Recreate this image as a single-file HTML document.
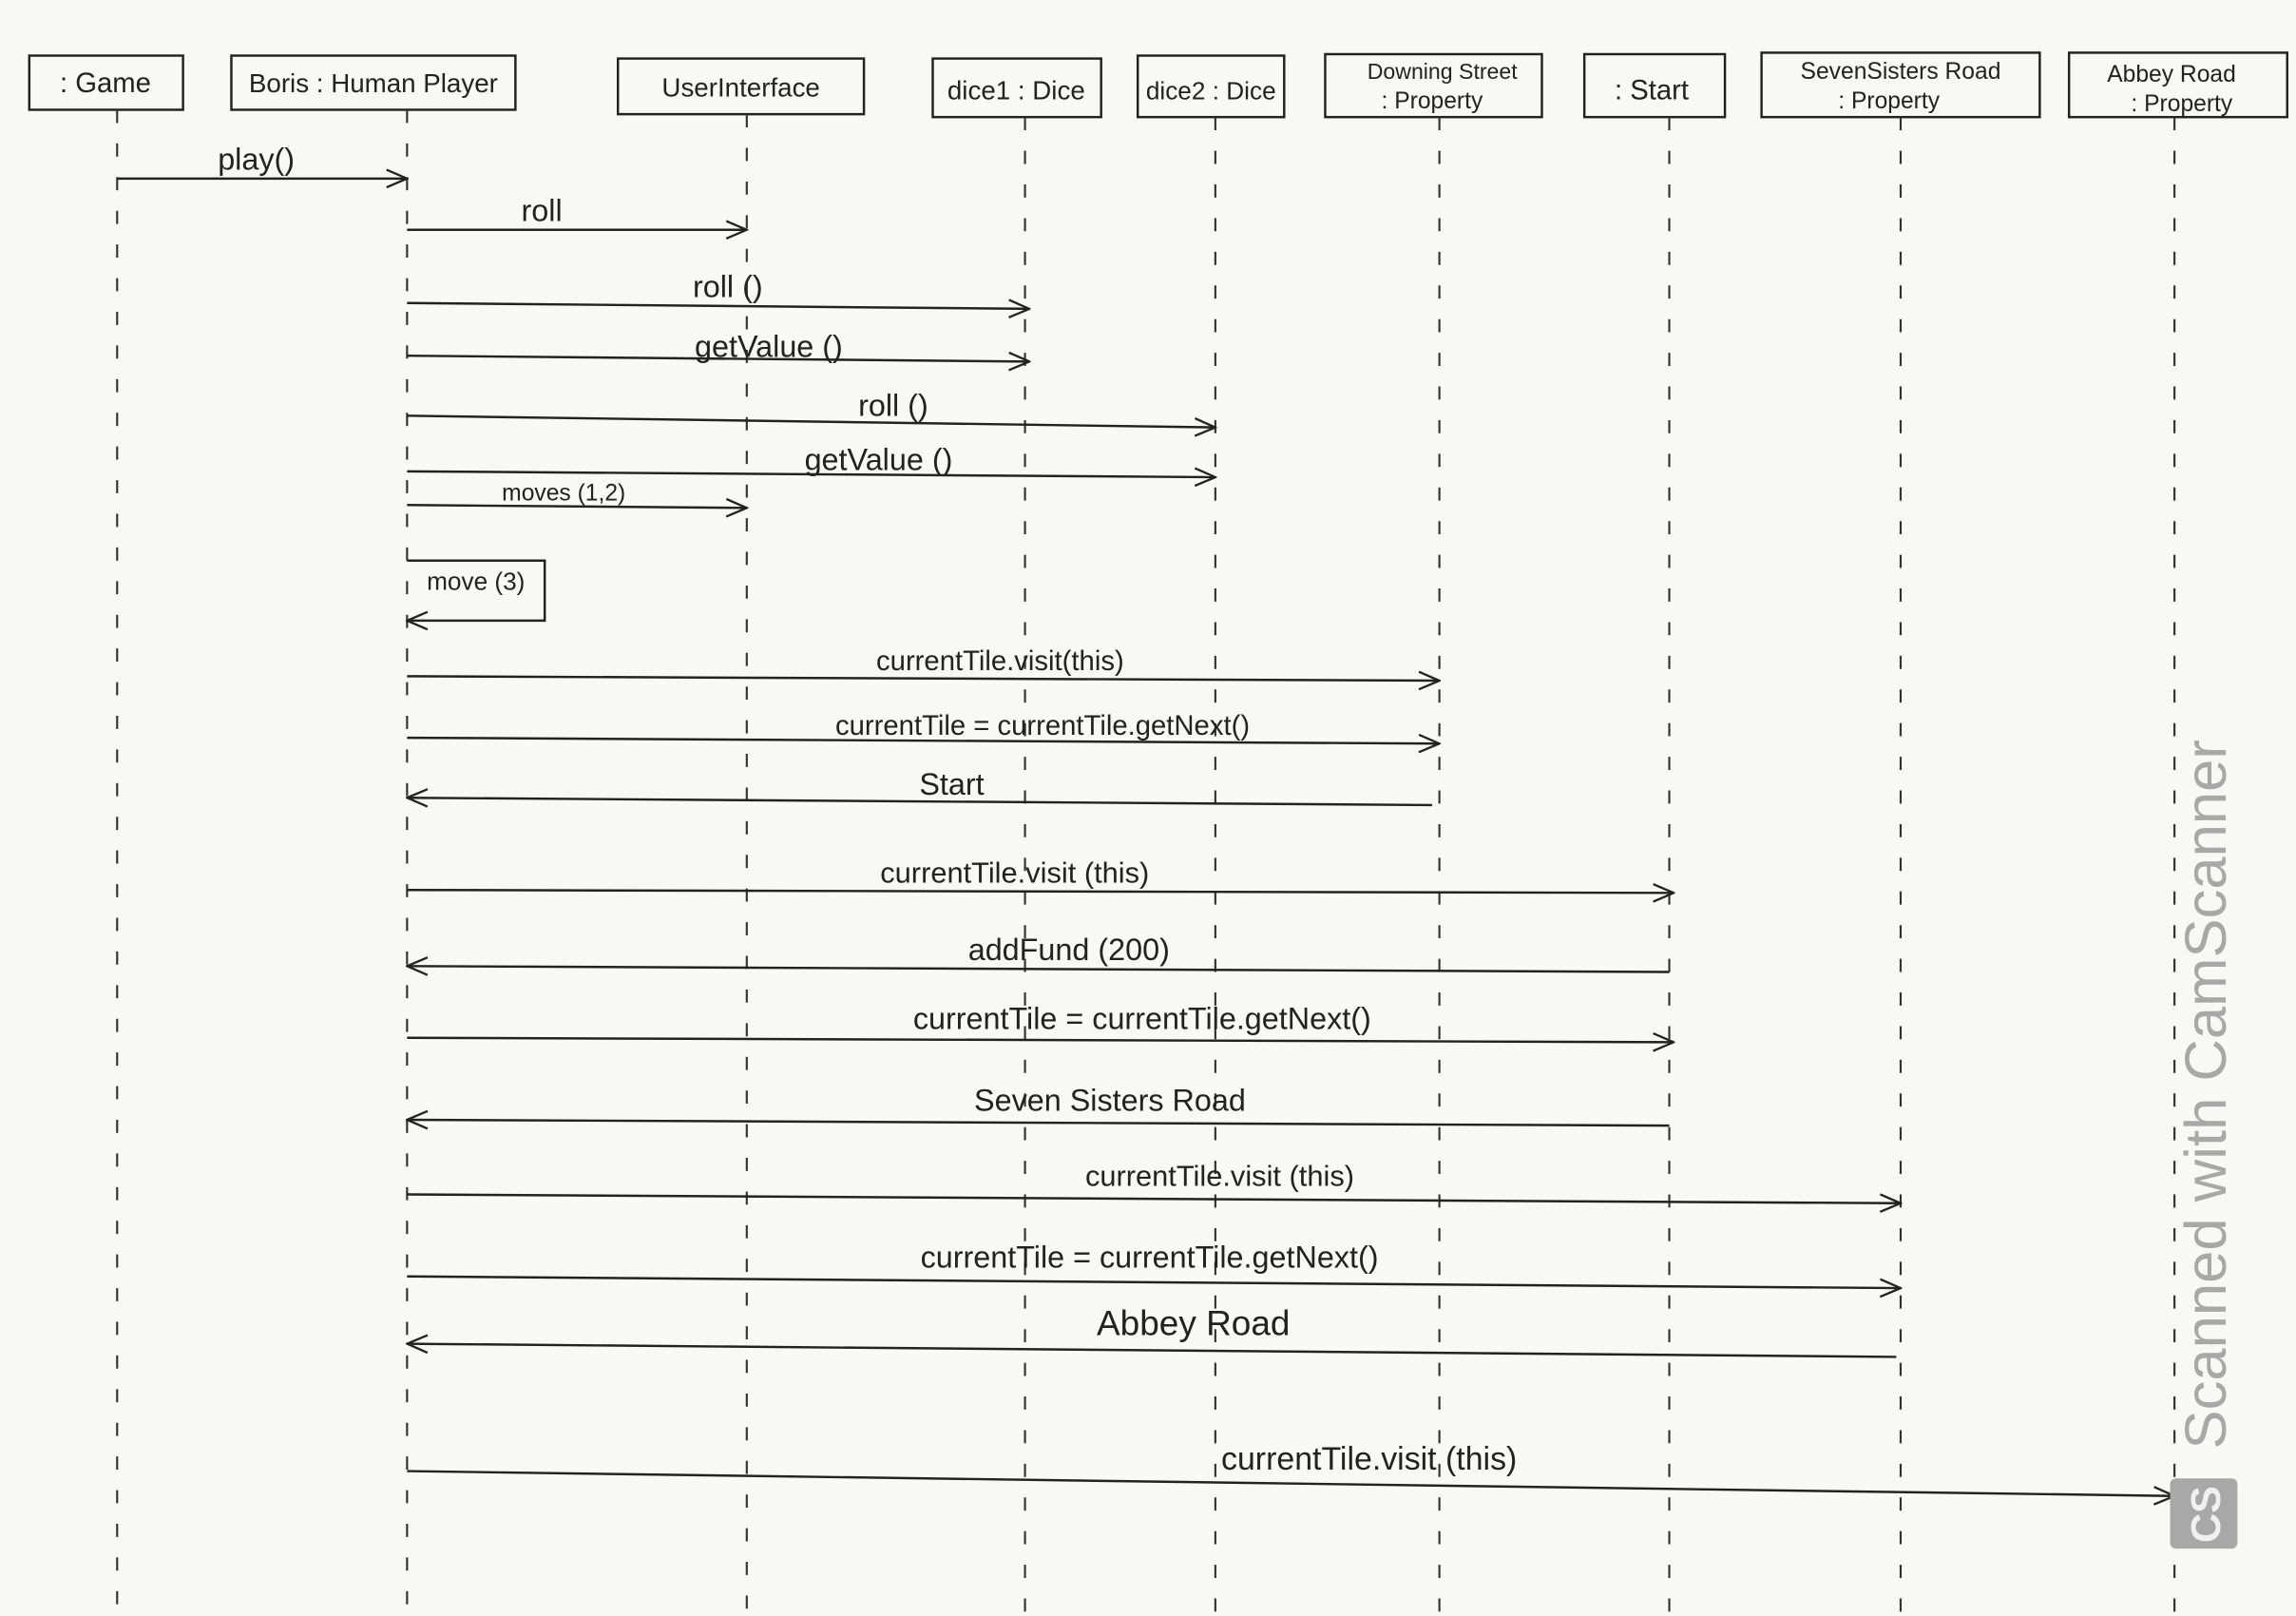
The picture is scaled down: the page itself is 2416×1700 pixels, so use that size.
<!DOCTYPE html>
<html><head><meta charset="utf-8"><style>
html,body{margin:0;padding:0;background:#f8f8f6;}
svg{display:block;}
text{font-family:"Liberation Sans",sans-serif;fill:#222;}
</style></head><body>
<svg width="2416" height="1700" viewBox="0 0 1568 1104" preserveAspectRatio="none" xmlns="http://www.w3.org/2000/svg">
<defs>
<marker id="a" markerWidth="16" markerHeight="14" refX="15" refY="7" orient="auto" markerUnits="userSpaceOnUse">
<path d="M1,1 L15,7 L1,13" fill="none" stroke="#222" stroke-width="1.5"/>
</marker>
</defs>
<rect width="1568" height="1104" fill="#f8f8f6"/>
<g stroke="#222" stroke-width="1.6" fill="none">
<rect x="20" y="38" width="105" height="37"/>
<rect x="158" y="38" width="194" height="37"/>
<rect x="422" y="40" width="168" height="38"/>
<rect x="637" y="40" width="115" height="40"/>
<rect x="777" y="38" width="100" height="42"/>
<rect x="905" y="37" width="148" height="43"/>
<rect x="1082" y="37" width="96" height="43"/>
<rect x="1203" y="36" width="190" height="44"/>
<rect x="1413" y="36" width="149" height="44"/>
</g>
<g stroke="#333" stroke-width="1.4" stroke-dasharray="9,14">
<line x1="80" y1="75" x2="80" y2="1104"/>
<line x1="278" y1="75" x2="278" y2="1104"/>
<line x1="510" y1="78" x2="510" y2="1104"/>
<line x1="700" y1="80" x2="700" y2="1104"/>
<line x1="830" y1="80" x2="830" y2="1104"/>
<line x1="983" y1="80" x2="983" y2="1104"/>
<line x1="1140" y1="80" x2="1140" y2="1104"/>
<line x1="1298" y1="80" x2="1298" y2="1104"/>
<line x1="1485" y1="80" x2="1485" y2="1104"/>
</g>
<g font-size="19" text-anchor="middle">
<text x="72" y="63">: Game</text>
<text x="255" y="63" font-size="18">Boris : Human Player</text>
<text x="506" y="66" font-size="18">UserInterface</text>
<text x="694" y="68" font-size="18">dice1 : Dice</text>
<text x="827" y="68" font-size="17">dice2 : Dice</text>
<text x="985" y="54" font-size="15">Downing Street</text>
<text x="978" y="74" font-size="16">: Property</text>
<text x="1128" y="68">: Start</text>
<text x="1298" y="54" font-size="16">SevenSisters Road</text>
<text x="1290" y="74" font-size="16">: Property</text>
<text x="1483" y="56" font-size="16">Abbey Road</text>
<text x="1490" y="76" font-size="16">: Property</text>
</g>
<g stroke="#222" stroke-width="1.6" fill="none" marker-end="url(#a)">
<line x1="80" y1="122" x2="278" y2="122"/>
<line x1="278" y1="157" x2="510" y2="157"/>
<line x1="278" y1="207" x2="703" y2="211"/>
<line x1="278" y1="243" x2="703" y2="247"/>
<line x1="278" y1="284" x2="830" y2="292"/>
<line x1="278" y1="322" x2="830" y2="326"/>
<line x1="278" y1="345" x2="510" y2="347"/>
<polyline points="278,383 372,383 372,424 278,424"/>
<line x1="278" y1="462" x2="983" y2="465"/>
<line x1="278" y1="504" x2="983" y2="508"/>
<line x1="978" y1="550" x2="278" y2="545"/>
<line x1="278" y1="608" x2="1143" y2="610"/>
<line x1="1140" y1="664" x2="278" y2="660"/>
<line x1="278" y1="709" x2="1143" y2="712"/>
<line x1="1140" y1="769" x2="278" y2="765"/>
<line x1="278" y1="816" x2="1298" y2="822"/>
<line x1="278" y1="872" x2="1298" y2="880"/>
<line x1="1295" y1="927" x2="278" y2="918"/>
<line x1="278" y1="1005" x2="1485" y2="1022"/>
</g>
<g font-size="21" text-anchor="middle">
<text x="175" y="116">play()</text>
<text x="370" y="151">roll</text>
<text x="497" y="203">roll ()</text>
<text x="525" y="244">getValue ()</text>
<text x="610" y="284">roll ()</text>
<text x="600" y="321">getValue ()</text>
<text x="385" y="342" font-size="16">moves (1,2)</text>
<text x="325" y="403" font-size="17">move (3)</text>
<text x="683" y="458" font-size="19">currentTile.visit(this)</text>
<text x="712" y="502" font-size="19">currentTile = currentTile.getNext()</text>
<text x="650" y="543">Start</text>
<text x="693" y="603" font-size="20">currentTile.visit (this)</text>
<text x="730" y="656">addFund (200)</text>
<text x="780" y="703">currentTile = currentTile.getNext()</text>
<text x="758" y="759">Seven Sisters Road</text>
<text x="833" y="810" font-size="20">currentTile.visit (this)</text>
<text x="785" y="866">currentTile = currentTile.getNext()</text>
<text x="815" y="912" font-size="24">Abbey Road</text>
<text x="935" y="1004" font-size="22">currentTile.visit (this)</text>
</g>
<text transform="translate(1520,990) rotate(-90)" font-size="40" fill="#a8a8a8" style="fill:#a8a8a8">Scanned with CamScanner</text>
<rect x="1482" y="1010" width="46" height="48" rx="4" fill="#a8a8a8"/>
<text transform="translate(1516,1054) rotate(-90)" font-size="28" font-weight="bold" style="fill:#f0f0f0">CS</text>
</svg>
</body></html>
